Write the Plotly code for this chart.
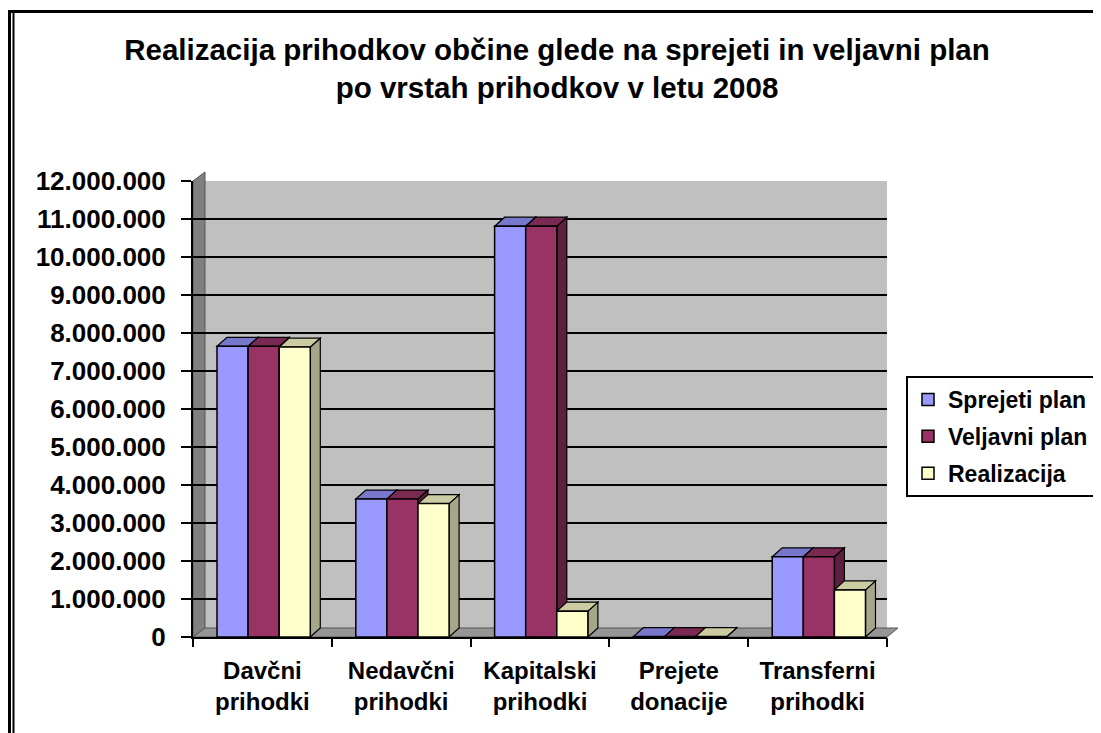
import plotly.graph_objects as go

# ---- data ----
categories = ["Davčni<br>prihodki", "Nedavčni<br>prihodki", "Kapitalski<br>prihodki",
              "Prejete<br>donacije", "Transferni<br>prihodki"]
sprejeti_plan = [7650000, 3630000, 10810000, 10000, 2110000]
veljavni_plan = [7650000, 3630000, 10810000, 10000, 2110000]
realizacija = [7630000, 3510000, 680000, 10000, 1240000]
series_names = ["Sprejeti plan", "Veljavni plan", "Realizacija"]
tick_values = list(range(0, 12000001, 1000000))

# ---- styles ----
front_colors = ["#9999FF", "#993366", "#FFFFCC"]
top_colors = ["#7777CC", "#7A2952", "#CCCCA3"]
side_colors = ["#5C5C99", "#5E1F3F", "#A6A68A"]

OFF = 8                      # default body margin of the page
W, H = 1093, 725
ML, MT = 193 - OFF, 181 - OFF
MR = W - (887 - OFF)
MB = H - (637 - OFF)
PW, PH = W - ML - MR, H - MT - MB
YMAX = 12000000
BAR_W = 0.224
GROUP_OFF = -0.327
DX = 10 / (PW / len(categories))   # depth in category units
DY = 9 * YMAX / PH                  # depth in value units

def px2paper(sx, sy):
    """screen pixel -> paper coordinates"""
    return (sx - OFF - ML) / PW, (H - MB - (sy - OFF)) / PH

fig = go.Figure()
all_series = [sprejeti_plan, veljavni_plan, realizacija]
for j, (name, vals) in enumerate(zip(series_names, all_series)):
    fig.add_trace(go.Bar(
        x=list(range(len(categories))), y=vals, name=name,
        legendgroup=name,
        width=BAR_W, offset=GROUP_OFF + j * BAR_W,
        marker=dict(color=front_colors[j], line=dict(color="black", width=1.5)),
    ))

shapes = []
# left wall and floor (decoration)
a = px2paper(193, 181); b = px2paper(205, 172); c = px2paper(205, 628); d = px2paper(193, 637)
shapes.append(dict(type="path", xref="paper", yref="paper",
                   path=f"M {a[0]},{a[1]} L {b[0]},{b[1]} L {c[0]},{c[1]} L {d[0]},{d[1]} Z",
                   fillcolor="#808080", line=dict(color="#555555", width=1), layer="between"))
e = px2paper(887, 637); f = px2paper(898, 628)
shapes.append(dict(type="path", xref="paper", yref="paper",
                   path=f"M {d[0]},{d[1]} L {c[0]},{c[1]} L {f[0]},{f[1]} L {e[0]},{e[1]} Z",
                   fillcolor="#969696", line=dict(color="#555555", width=1), layer="between"))

# side faces first, then top faces (drawn between grid and bars)
for kind in ("side", "top"):
    for j, vals in enumerate(all_series):
        for i, v in enumerate(vals):
            x0 = i + GROUP_OFF + j * BAR_W
            x1 = x0 + BAR_W
            if kind == "side":
                path = f"M {x1},0 L {x1+DX},{DY} L {x1+DX},{v+DY} L {x1},{v} Z"
                col = side_colors[j]
            else:
                path = f"M {x0},{v} L {x0+DX},{v+DY} L {x1+DX},{v+DY} L {x1},{v} Z"
                col = top_colors[j]
            shapes.append(dict(type="path", xref="x", yref="y", path=path,
                               fillcolor=col, line=dict(color="black", width=1.2),
                               layer="between"))

# outer chart border: top line and double left line
t0 = px2paper(8, 11.5); t1 = px2paper(1101, 11.5)
shapes.append(dict(type="line", xref="paper", yref="paper",
                   x0=t0[0], y0=t0[1], x1=t1[0], y1=t1[1],
                   line=dict(color="black", width=3)))
l0 = px2paper(9.5, 10); l1 = px2paper(9.5, 733)
shapes.append(dict(type="line", xref="paper", yref="paper",
                   x0=l0[0], y0=l0[1], x1=l1[0], y1=l1[1],
                   line=dict(color="black", width=3)))
m0 = px2paper(13.5, 12.5); m1 = px2paper(13.5, 733)
shapes.append(dict(type="line", xref="paper", yref="paper",
                   x0=m0[0], y0=m0[1], x1=m1[0], y1=m1[1],
                   line=dict(color="black", width=2)))

font_family = "Liberation Sans, Arial, sans-serif"
leg = px2paper(906, 376)
fig.update_layout(
    width=W, height=H,
    margin=dict(l=ML, r=MR, t=MT, b=MB, autoexpand=False),
    paper_bgcolor="white",
    plot_bgcolor="#C0C0C0",
    separators=",.",
    barmode="overlay",
    shapes=shapes,
    font=dict(family=font_family, color="black", size=20, weight="bold"),
    title=dict(
        text="Realizacija prihodkov občine glede na sprejeti in veljavni plan<br>po vrstah prihodkov v letu 2008",
        x=(557 - OFF) / W, xanchor="center", xref="container",
        y=1 - (60 - OFF) / H, yanchor="top", yref="container",
        font=dict(family=font_family, size=29.5, color="black", weight="bold"),
    ),
    xaxis=dict(
        tickmode="array", tickvals=list(range(len(categories))), ticktext=categories,
        range=[-0.5, len(categories) - 0.5],
        showline=True, linecolor="black", linewidth=2,
        ticks="", showgrid=False, zeroline=False,
        tickfont=dict(size=24, weight="bold"),
        ticklabelstandoff=11,
    ),
    xaxis2=dict(
        overlaying="x", range=[-0.5, len(categories) - 0.5],
        tickmode="array", tickvals=[k - 0.5 for k in range(len(categories) + 1)],
        ticks="outside", tickcolor="black", ticklen=9, tickwidth=2,
        showticklabels=False, showgrid=False, zeroline=False, side="bottom",
    ),
    yaxis=dict(
        range=[0, YMAX], tickvals=tick_values, tickformat=",d",
        showline=True, linecolor="black", linewidth=2,
        ticks="outside", tickcolor="black", ticklen=10, tickwidth=2,
        showgrid=True, gridcolor="black", gridwidth=2,
        zeroline=False,
        tickfont=dict(size=26, weight="bold"),
        ticklabelstandoff=10,
    ),
    legend=dict(
        x=leg[0], y=leg[1], xanchor="left", yanchor="top",
        bordercolor="black", borderwidth=2, bgcolor="white",
        font=dict(size=23, weight="bold"),
        traceorder="grouped", tracegroupgap=4,
        itemwidth=30,
    ),
)
# invisible trace to carry the boundary ticks on the secondary x axis
fig.add_trace(go.Scatter(x=[0], y=[0], xaxis="x2", mode="markers",
                         marker=dict(opacity=0), showlegend=False, hoverinfo="skip"))

fig.write_html("out.html")
